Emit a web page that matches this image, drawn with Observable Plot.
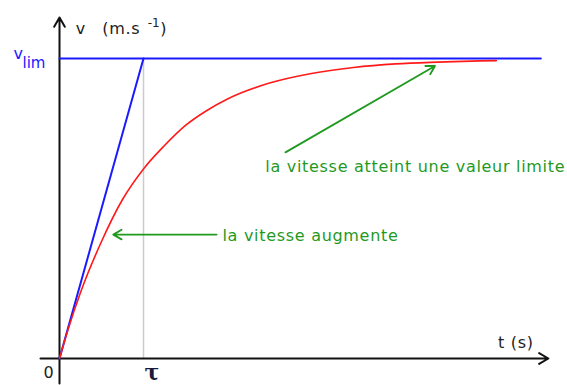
<!DOCTYPE html>
<html>
<head>
<meta charset="utf-8">
<script src="https://cdn.jsdelivr.net/npm/d3@7"></script>
<script src="https://cdn.jsdelivr.net/npm/@observablehq/plot@0.6"></script>
<style>
  html, body { margin: 0; padding: 0; background: #fff; }
  svg { display: block; }
  svg .wide text { letter-spacing: 0.7px; }
</style>
</head>
<body>
<div id="chart"></div>
<script>
// Time in units of tau, speed as a fraction of v_lim
const tValues = [0, 0.1, 0.25, 0.5, 0.75, 1, 1.25, 1.5, 1.75, 2, 2.5, 3, 3.5, 4, 4.5, 5, 5.2];
const vValues = [0, 0.095, 0.22, 0.39, 0.53, 0.632, 0.71, 0.777, 0.826, 0.865, 0.918, 0.95, 0.97, 0.982, 0.988, 0.992, 0.993];

// Tangent at the origin and the limit speed
const tangentT = [0, 1];
const tangentV = [0, 1];
const limitT = [0, 5.73];
const tau = 1;
const vLim = 1;

const annotations = [
  {text: "la vitesse atteint une valeur limite", t: 2.45, v: 0.638, x1: 2.69, y1: 0.687, x2: 4.47, y2: 0.975},
  {text: "la vitesse augmente", t: 1.94, v: 0.41, x1: 1.87, y1: 0.413, x2: 0.64, y2: 0.413}
];

const curve = tValues.map((t, i) => ({t, v: vValues[i]}));
const tangent = tangentT.map((t, i) => ({t, v: tangentV[i]}));

const font = "'DejaVu Sans', Verdana, sans-serif";
const green = "#1f9a1f";
const blue = "#1a1aff";
const ink = "#222";

const chart = Plot.plot({
  width: 567,
  height: 385,
  marginLeft: 59,
  marginRight: 4,
  marginTop: 58,
  marginBottom: 27,
  x: {domain: [0, 6], axis: null},
  y: {domain: [0, 1], axis: null},
  style: {fontFamily: font, background: "#fff", overflow: "visible"},
  marks: [
    // tau guide
    Plot.ruleX([tau], {y1: 0, y2: vLim, stroke: "#cccccc", strokeWidth: 1.5}),
    // axes with arrow heads
    Plot.arrow([{x1: -0.226, y1: 0, x2: 5.82, y2: 0}], {x1: "x1", y1: "y1", x2: "x2", y2: "y2", stroke: "#111", strokeWidth: 2, headLength: 8}),
    Plot.arrow([{x1: 0, y1: -0.083, x2: 0, y2: 1.137}], {x1: "x1", y1: "y1", x2: "x2", y2: "y2", stroke: "#111", strokeWidth: 2, headLength: 8}),
    // limit speed and tangent
    Plot.lineY(limitT.map(t => ({t, v: vLim})), {x: "t", y: "v", stroke: blue, strokeWidth: 2}),
    Plot.line(tangent, {x: "t", y: "v", stroke: blue, strokeWidth: 2}),
    // speed curve
    Plot.line(curve, {x: "t", y: "v", stroke: "#ff1a1a", strokeWidth: 1.6, curve: "monotone-x"}),
    // annotations
    Plot.arrow(annotations, {x1: "x1", y1: "y1", x2: "x2", y2: "y2", stroke: green, strokeWidth: 1.8, headLength: 8}),
    Plot.text(annotations, {x: "t", y: "v", text: "text", fill: green, fontSize: 16, textAnchor: "start", className: "wide"}),
    // axis labels
    Plot.text(["v"], {x: 0.25, y: 1.1, text: d => d, fontSize: 16, fill: ink}),
    Plot.text(["(m.s"], {x: 0.51, y: 1.1, text: d => d, fontSize: 16, fill: ink, textAnchor: "start", className: "wide"}),
    Plot.text(["-1"], {x: 1.05, y: 1.118, text: d => d, fontSize: 12, fill: ink, textAnchor: "start"}),
    Plot.text([")"], {x: 1.2, y: 1.1, text: d => d, fontSize: 16, fill: ink, textAnchor: "start"}),
    Plot.text(["t (s)"], {x: 5.22, y: 0.053, text: d => d, fontSize: 16, fill: ink, textAnchor: "start", className: "wide"}),
    Plot.text(["0"], {x: -0.13, y: -0.047, text: d => d, fontSize: 16, fill: ink}),
    Plot.text(["τ"], {x: 1.1, y: -0.073, text: d => d, fontSize: 22, fontWeight: "bold", fill: "#1a1a3a", fontFamily: "'DejaVu Serif', serif", lineAnchor: "bottom"}),
    Plot.text(["v"], {x: -0.49, y: 1.017, text: d => d, fontSize: 16, fill: blue}),
    Plot.text(["lim"], {x: -0.44, y: 0.985, text: d => d, fontSize: 15, fill: blue, textAnchor: "start"})
  ]
});

document.getElementById("chart").append(chart);
</script>
</body>
</html>
